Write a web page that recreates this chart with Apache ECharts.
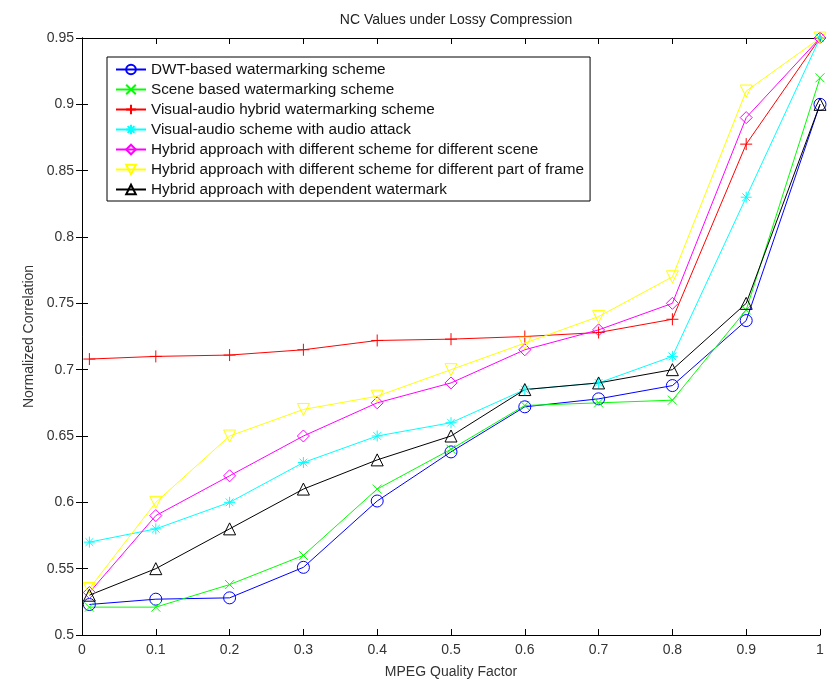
<!DOCTYPE html>
<html>
<head>
<meta charset="utf-8">
<script src="https://cdn.jsdelivr.net/npm/echarts@6/dist/echarts.min.js"></script>
<style>
  html, body { margin: 0; padding: 0; background: #fff; }
  #chart { width: 828px; height: 684px; }
</style>
</head>
<body>
<div id="chart"></div>
<script>
  // MPEG quality factor (first point sits just right of 0)
  const quality = [0.01, 0.1, 0.2, 0.3, 0.4, 0.5, 0.6, 0.7, 0.8, 0.9, 1];

  const dwt      = [0.523, 0.527, 0.528, 0.551, 0.601, 0.638, 0.672, 0.678, 0.688, 0.737, 0.900];
  const scene    = [0.521, 0.521, 0.538, 0.560, 0.610, 0.640, 0.673, 0.675, 0.677, 0.745, 0.920];
  const visAudio = [0.708, 0.710, 0.711, 0.715, 0.722, 0.723, 0.725, 0.728, 0.738, 0.870, 0.950];
  const visAttack= [0.570, 0.580, 0.600, 0.630, 0.650, 0.660, 0.685, 0.690, 0.710, 0.830, 0.950];
  const hybScene = [0.532, 0.590, 0.620, 0.650, 0.675, 0.690, 0.715, 0.730, 0.750, 0.890, 0.950];
  const hybPart  = [0.535, 0.600, 0.650, 0.670, 0.680, 0.700, 0.720, 0.740, 0.770, 0.910, 0.950];
  const hybDep   = [0.530, 0.550, 0.580, 0.610, 0.632, 0.650, 0.685, 0.690, 0.700, 0.750, 0.900];

  const names = [
    'DWT-based watermarking scheme',
    'Scene based watermarking scheme',
    'Visual-audio hybrid watermarking scheme',
    'Visual-audio scheme with audio attack',
    'Hybrid approach with different scheme for different scene',
    'Hybrid approach with different scheme for different part of frame',
    'Hybrid approach with dependent watermark'
  ];

  const xMark = 'path://M0,0L10,10M10,0L0,10';
  const plusMark = 'path://M5,0L5,10M0,5L10,5';
  const starMark = 'path://M5,0L5,10M0,5L10,5M1.5,1.5L8.5,8.5M8.5,1.5L1.5,8.5';
  const downTri = 'path://M0,0L10,0L5,9Z';

  function line(name, vals, color, symbol, size) {
    return {
      name: name,
      type: 'line',
      data: quality.map((q, i) => [q, vals[i]]),
      symbol: symbol,
      symbolSize: size,
      showAllSymbol: true,
      lineStyle: { color: color, width: 1 },
      itemStyle: { color: 'rgba(0,0,0,0)', borderColor: color, borderWidth: 1 },
      emphasis: { disabled: true },
      animation: false
    };
  }

  const chart = echarts.init(document.getElementById('chart'));
  const axisText = { color: '#333', fontFamily: 'Liberation Sans', fontSize: 14 };

  chart.setOption({
    backgroundColor: '#fff',
    title: {
      text: 'NC Values under Lossy Compression',
      left: 451, top: 8, textAlign: 'center',
      textStyle: { color: '#222', fontFamily: 'Liberation Sans', fontSize: 14, fontWeight: 'normal' }
    },
    legend: {
      orient: 'vertical',
      left: 107, top: 57,
      itemWidth: 30, itemHeight: 12, itemGap: 5,
      padding: [5, 6, 4, 8],
      backgroundColor: '#fff',
      borderColor: '#000', borderWidth: 1,
      textStyle: { color: '#111', fontFamily: 'Liberation Sans', fontSize: 15.3 },
      data: names
    },
    grid: { left: 82, right: 8, top: 38, bottom: 46 },
    xAxis: [{
      type: 'value', min: 0, max: 1, interval: 0.1,
      name: 'MPEG Quality Factor', nameLocation: 'middle', nameGap: 30,
      nameTextStyle: axisText,
      axisLine: { lineStyle: { color: '#000' } },
      axisTick: { inside: true, length: 6, lineStyle: { color: '#000' } },
      axisLabel: Object.assign({ margin: 8 }, axisText),
      splitLine: { show: false }
    }, {
      type: 'value', min: 0, max: 1, interval: 0.1, position: 'top',
      axisLine: { lineStyle: { color: '#000' } },
      axisTick: { inside: true, length: 6, lineStyle: { color: '#000' } },
      axisLabel: { show: false }, splitLine: { show: false }
    }],
    yAxis: [{
      type: 'value', min: 0.5, max: 0.95, interval: 0.05,
      name: 'Normalized Correlation', nameLocation: 'middle', nameGap: 46,
      nameTextStyle: axisText,
      axisLine: { lineStyle: { color: '#000' } },
      axisTick: { inside: true, length: 6, lineStyle: { color: '#000' } },
      axisLabel: Object.assign({ margin: 8 }, axisText),
      splitLine: { show: false }
    }, {
      type: 'value', min: 0.5, max: 0.95, interval: 0.05, position: 'right',
      axisLine: { lineStyle: { color: '#000' } },
      axisTick: { inside: true, length: 6, lineStyle: { color: '#000' } },
      axisLabel: { show: false }, splitLine: { show: false }
    }],
    series: [
      line(names[0], dwt, '#0000ff', 'circle', 12),
      line(names[1], scene, '#00ff00', xMark, 9),
      line(names[2], visAudio, '#ff0000', plusMark, 12),
      line(names[3], visAttack, '#00ffff', starMark, 11),
      line(names[4], hybScene, '#ff00ff', 'diamond', 12),
      line(names[5], hybPart, '#ffff00', downTri, 12),
      line(names[6], hybDep, '#000000', 'triangle', 12)
    ]
  });
</script>
</body>
</html>
